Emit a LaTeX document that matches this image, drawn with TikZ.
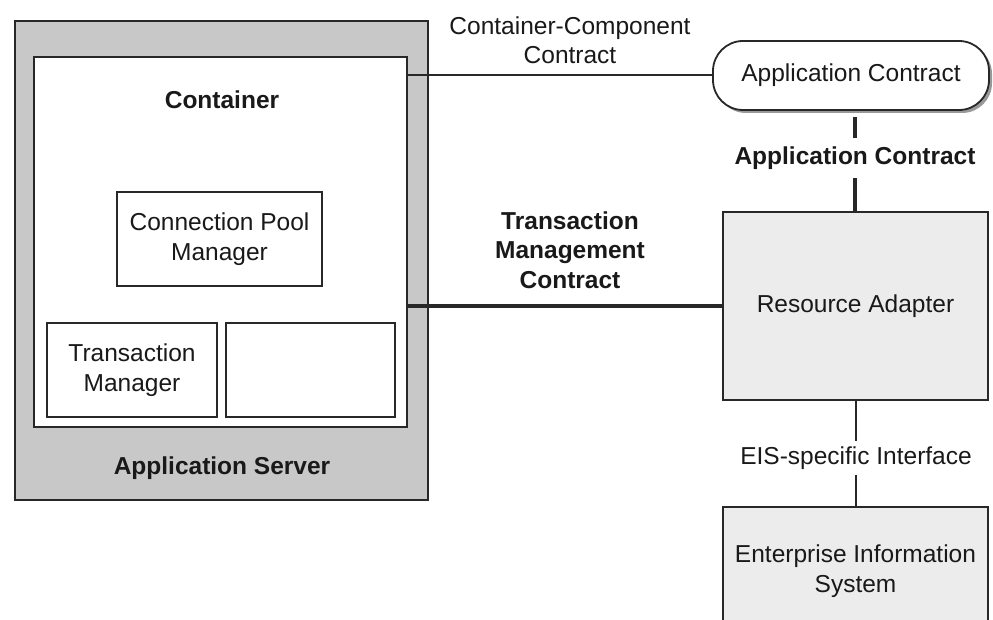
\documentclass[tikz,border=0pt]{standalone}
\usepackage{fontspec}
\setmainfont{Liberation Sans}
\usetikzlibrary{shadows}
\definecolor{servergray}{RGB}{200,200,200}
\definecolor{adaptergray}{RGB}{236,236,236}
\definecolor{linegray}{RGB}{40,40,40}

\begin{document}
\begin{tikzpicture}[x=1pt,y=-1pt]
		\tikzset{lab/.style = {font=\fontsize{24.5}{29.5}\selectfont, align=center, text=black!90}}
		\tikzset{boldlab/.style = {lab, font=\fontsize{24.5}{29.5}\selectfont\bfseries}}
		\tikzset{box/.style = {lab, draw=linegray, line width=1.8pt, fill=white, inner sep=0pt}}
		\tikzset{edge/.style = {draw=linegray, line width=2pt}}
		\tikzset{bigedge/.style = {draw=linegray, line width=3.6pt}}
		
		\useasboundingbox (0,0) rectangle (993,620);
		\clip (0,0) rectangle (993,620);
		
		\node[box, fill=servergray, minimum width=413pt, minimum height=479pt] (1) at (221.5, 260.5) {};
		\node[box, minimum width=373pt, minimum height=370pt] (2) at (220.5,   242) {};
		\node[boldlab]                                        (3) at (  222,   100) {Container};
		\node[box, minimum width=205pt, minimum height=94pt]  (4) at (219.5,   239) {Connection Pool\\Manager};
		\node[box, minimum width=170pt, minimum height=94pt]  (5) at (  132,   370) {Transaction\\Manager};
		\node[box, minimum width=169pt, minimum height=94pt]  (6) at (310.5,   370) {};
		\node[boldlab]                                        (7) at (  222,   468) {Application Server};
		
		\node[lab]                                            (8) at (  570,    40) {Container-Component\\Contract};
		\node[box, rounded corners=30pt, minimum width=276pt, minimum height=69pt,
		      drop shadow={shadow xshift=3pt, shadow yshift=-3pt, fill=black!40, opacity=1}]
		                                                      (9) at (  851,  75.5) {Application Contract};
		\node[boldlab, inner ysep=8.5pt]                     (10) at (  855,   158) {Application Contract};
		\node[boldlab]                                       (11) at (  570,   250) {Transaction\\Management\\Contract};
		\node[box, fill=adaptergray, minimum width=265pt, minimum height=188pt]
		                                                     (12) at (855.5,   306) {Resource Adapter};
		\node[lab, inner ysep=5pt]                           (13) at (  856,   458) {EIS-specific Interface};
		\node[box, fill=adaptergray, minimum width=265pt, minimum height=128pt]
		                                                     (14) at (855.5,   571) {Enterprise Information\\System};
		
		\draw[edge] (2.east |- 9.west) to (9.west);
		\draw[bigedge] (2.east |- 12.west) to (12.west);
		\draw[bigedge, shorten <=6pt] (10 |- 9.south) to (10);
		\draw[bigedge] (10) to (10 |- 12.north);
		\draw[edge] (13 |- 12.south) to (13);
		\draw[edge] (13) to (13 |- 14.north);
		\end{tikzpicture}
\end{document}
